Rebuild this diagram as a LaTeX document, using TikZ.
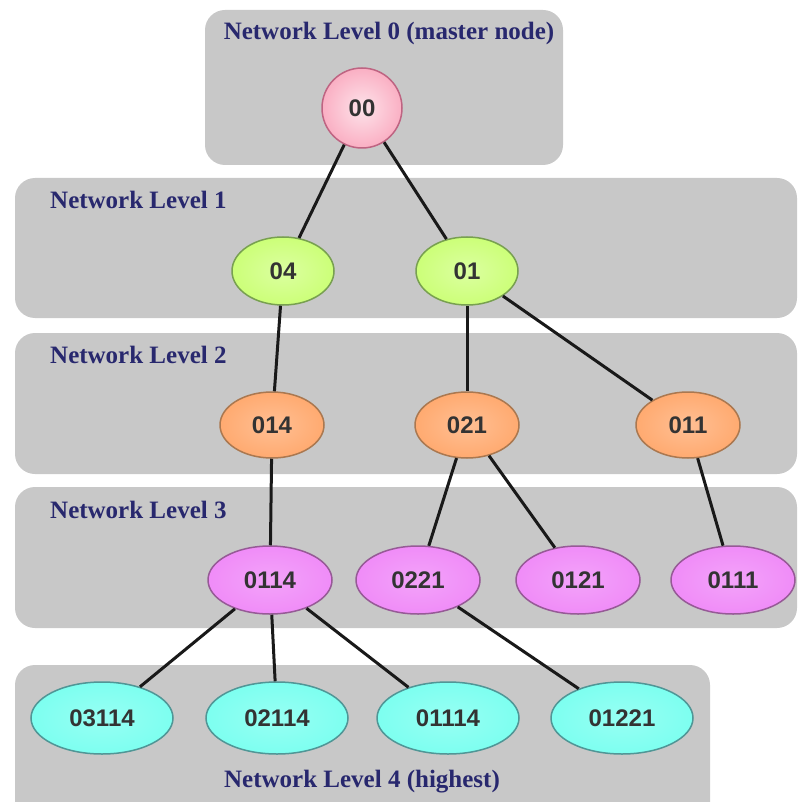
\documentclass[tikz,border=0pt]{standalone}
\usepackage{fontspec}
\setmainfont{Liberation Serif}
\newfontfamily\nodefont{Liberation Sans}
\usetikzlibrary{shapes.geometric}
\definecolor{boxgray}{RGB}{200,200,200}
\definecolor{titleblue}{RGB}{40,40,110}
\definecolor{pinkfill}{RGB}{250,175,195}
\definecolor{pinkline}{RGB}{190,100,130}
\definecolor{greenfill}{RGB}{204,255,120}
\definecolor{greenline}{RGB}{120,160,80}
\definecolor{orangefill}{RGB}{255,170,112}
\definecolor{orangeline}{RGB}{170,120,80}
\definecolor{violetfill}{RGB}{240,140,248}
\definecolor{violetline}{RGB}{150,90,150}
\definecolor{cyanfill}{RGB}{125,255,240}
\definecolor{cyanline}{RGB}{80,150,150}
\tikzset{
  levelbox/.style={fill=boxgray, rounded corners=20pt, draw=none},
  leveltitle/.style={text=titleblue, font=\bfseries\fontsize{25}{27}\selectfont, inner sep=0pt},
  netnode/.style={ellipse, line width=1.5pt, inner sep=0pt, text=black!80,
    font=\nodefont\bfseries\fontsize{24}{26}\selectfont},
  pinknode/.style={netnode, circle, minimum size=80pt, draw=pinkline, inner color=pinkfill!35!white, outer color=pinkfill},
  greennode/.style={netnode, minimum width=102pt, minimum height=68pt, draw=greenline, inner color=greenfill!70!white, outer color=greenfill},
  orangenode/.style={netnode, minimum width=104pt, minimum height=66pt, draw=orangeline, inner color=orangefill!75!white, outer color=orangefill},
  violetnode/.style={netnode, minimum width=124pt, minimum height=68pt, draw=violetline, inner color=violetfill!80!white, outer color=violetfill},
  cyannode/.style={netnode, minimum width=142pt, minimum height=72pt, draw=cyanline, inner color=cyanfill!80!white, outer color=cyanfill},
  link/.style={line width=3pt, black!90}
}
\begin{document}
\begin{tikzpicture}[x=1pt, y=-1pt]
\useasboundingbox (0,0) rectangle (798,802);
% level boxes
\fill[levelbox] (205,10) rectangle (563,165);
\fill[levelbox] (15,178) rectangle (797,318);
\fill[levelbox] (15,333) rectangle (797,474);
\fill[levelbox] (15,487) rectangle (797,628);
\fill[levelbox] (15,665) rectangle (710,822);
% titles
\node[leveltitle] (t0) at (389,33) {Network Level 0 (master node)};
\node[leveltitle, anchor=west] (t1) at (50,200) {Network Level 1};
\node[leveltitle, anchor=west] (t2) at (50,355) {Network Level 2};
\node[leveltitle, anchor=west] (t3) at (50,510) {Network Level 3};
\node[leveltitle] (t4) at (362,782) {Network Level 4 (highest)};
% nodes
\node[pinknode] (n00) at (362,108) {00};
\node[greennode] (n04) at (283,271) {04};
\node[greennode] (n01) at (467,271) {01};
\node[orangenode] (n014) at (272,425) {014};
\node[orangenode] (n021) at (467,425) {021};
\node[orangenode] (n011) at (688,425) {011};
\node[violetnode] (n0114) at (270,580) {0114};
\node[violetnode] (n0221) at (418,580) {0221};
\node[violetnode] (n0121) at (578,580) {0121};
\node[violetnode] (n0111) at (733,580) {0111};
\node[cyannode] (n03114) at (102,718) {03114};
\node[cyannode] (n02114) at (277,718) {02114};
\node[cyannode] (n01114) at (448,718) {01114};
\node[cyannode] (n01221) at (622,718) {01221};
% links
\draw[link] (n00) -- (n04);
\draw[link] (n00) -- (n01);
\draw[link] (n04) -- (n014);
\draw[link] (n01) -- (n021);
\draw[link] (n01) -- (n011);
\draw[link] (n014) -- (n0114);
\draw[link] (n021) -- (n0221);
\draw[link] (n021) -- (n0121);
\draw[link] (n011) -- (n0111);
\draw[link] (n0114) -- (n03114);
\draw[link] (n0114) -- (n02114);
\draw[link] (n0114) -- (n01114);
\draw[link] (n0221) -- (n01221);
\end{tikzpicture}
\end{document}
